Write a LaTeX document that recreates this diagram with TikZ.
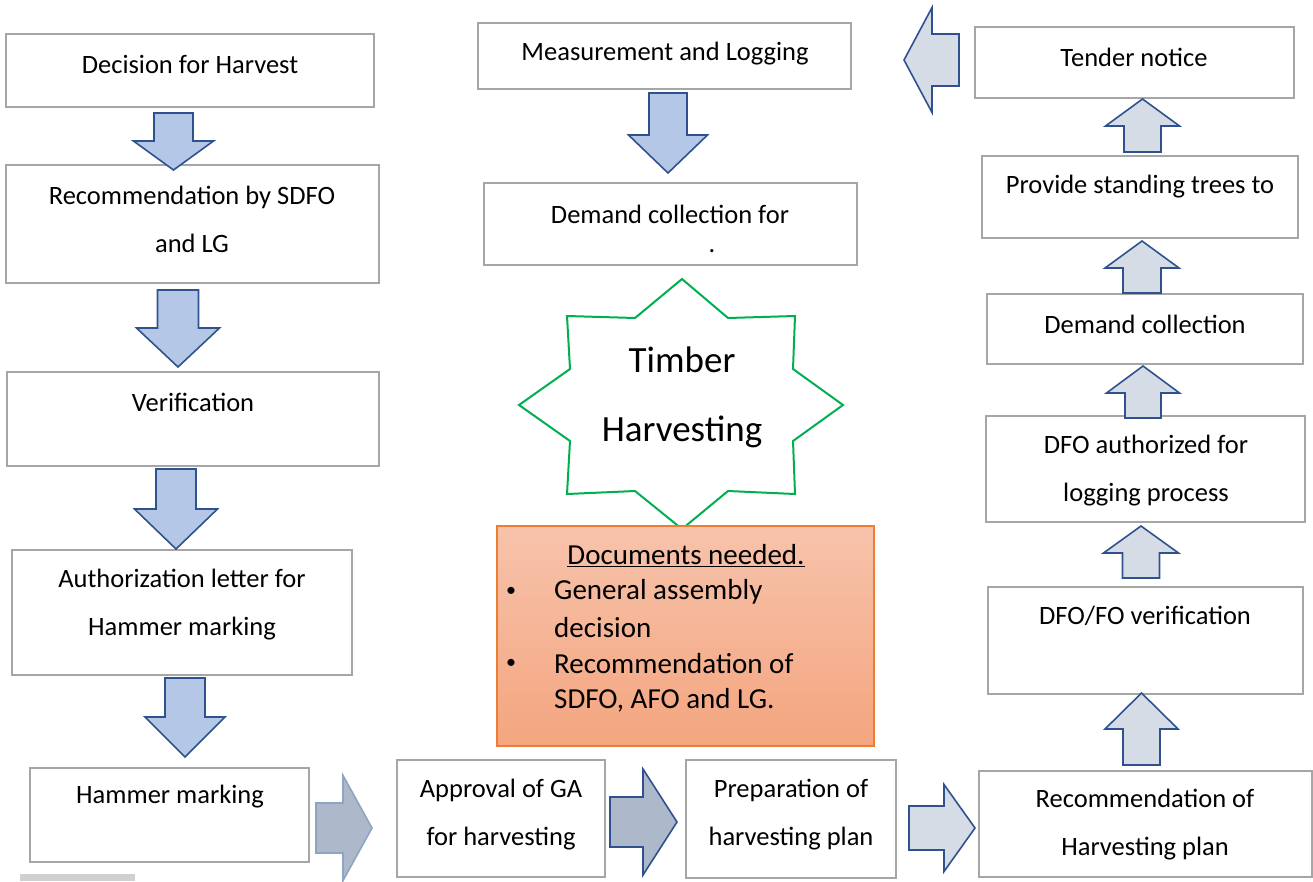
\documentclass[tikz,border=0pt]{standalone}
\usepackage{fontspec}
\setmainfont{Carlito}
\usetikzlibrary{fit}
\definecolor{boxgray}{HTML}{A6A6A6}
\definecolor{arrblue}{HTML}{2F528F}
\definecolor{downfill}{HTML}{B4C7E7}
\definecolor{upfill}{HTML}{D6DCE5}
\definecolor{midfill}{HTML}{ADB9CA}
\definecolor{softedge}{HTML}{8FA3C2}
\definecolor{stargreen}{HTML}{00B050}
\definecolor{docedge}{HTML}{ED7D31}
\definecolor{doctop}{HTML}{F7C3AB}
\definecolor{docbot}{HTML}{F4A57F}
\definecolor{barl}{HTML}{D0D0D0}

% vertical block arrow: style, centre x, shaft end y, head base y, tip y, shaft half width, head half width
\newcommand{\blockV}[7]{%
  \draw[#1] (#2-#6,#3) -- (#2+#6,#3) -- (#2+#6,#4) -- (#2+#7,#4) -- (#2,#5)
    -- (#2-#7,#4) -- (#2-#6,#4) -- cycle;}
% horizontal block arrow: style, centre y, shaft end x, head base x, tip x, shaft half width, head half width
\newcommand{\blockH}[7]{%
  \draw[#1] (#3,#2-#6) -- (#4,#2-#6) -- (#4,#2-#7) -- (#5,#2) -- (#4,#2+#7)
    -- (#4,#2+#6) -- (#3,#2+#6) -- cycle;}

\begin{document}
\begin{tikzpicture}[x=1pt,y=-1pt,
  box/.style={draw=boxgray, line width=1.6pt, fill=white, inner sep=0pt},
  txt/.style={font=\fontsize{26.5}{48}\selectfont, align=center, inner sep=0pt},
  doc/.style={font=\fontsize{29}{36}\selectfont, inner sep=0pt},
  darr/.style={draw=arrblue, line width=1.6pt, fill=downfill, line join=miter},
  uarr/.style={draw=arrblue, line width=1.6pt, fill=upfill, line join=miter},
  marr/.style={draw=arrblue, line width=1.6pt, fill=midfill, line join=miter},
  sarr/.style={draw=softedge, line width=1.6pt, fill=midfill, line join=miter},
]
\useasboundingbox (0,0) rectangle (1313,881);

% ---- left column ----
\node[box, fit={(6,34) (374,107)}] (dec) {};
\node[txt] (dec-t) at (190,64) {Decision for Harvest};
\node[box, fit={(6,165) (379,283)}] (rec) {};
\node[txt] (rec-t) at (192,219) {Recommendation by SDFO\\and LG};
\node[box, fit={(7,372) (379,466)}] (ver) {};
\node[txt] (ver-t) at (193,402) {Verification};
\node[box, fit={(12,550) (352,675)}] (auth) {};
\node[txt] (auth-t) at (182,604.5) {Authorization letter for\\Hammer marking};
\node[box, fit={(30,768) (309,862)}] (ham) {};
\node[txt] (ham-t) at (170,797) {Hammer marking};
\fill[barl] (20,874) rectangle (135,881);

\blockV{darr}{173.5}{113}{141}{170}{19.5}{40}
\blockV{darr}{178}{290}{328}{367}{20.5}{41.5}
\blockV{darr}{176}{469}{509}{549}{20}{41.5}
\blockV{darr}{185}{678}{717}{757}{20}{40}

% ---- bottom row ----
\node[box, fit={(397,760) (605,877)}] (appr) {};
\node[txt] (appr-t) at (501,815) {Approval of GA\\for harvesting};
\node[box, fit={(686,760) (896,878)}] (prep) {};
\node[txt] (prep-t) at (791,815) {Preparation of\\harvesting plan};
\node[box, fit={(979,771) (1312,877)}] (rhp) {};
\node[txt] (rhp-t) at (1145,824.5) {Recommendation of\\Harvesting plan};

\blockH{sarr}{828}{316}{343}{372}{25}{52.5}
\blockH{marr}{822}{610}{643}{677}{25}{53}
\blockH{uarr}{828}{909}{944}{975}{22}{43.5}

% ---- right column ----
\node[box, fit={(988,587) (1303,694)}] (dfv) {};
\node[txt] (dfv-t) at (1145,616) {DFO/FO verification};
\node[box, fit={(986,416) (1305,522)}] (dfa) {};
\node[txt] (dfa-t) at (1146,470.5) {DFO authorized for\\logging process};
\node[box, fit={(987,294) (1303,364)}] (dem) {};
\node[txt] (dem-t) at (1145,324) {Demand collection};
\node[box, fit={(982,156) (1298,238)}] (prov) {};
\node[txt] (prov-t) at (1140,187) {Provide standing trees to};
\node[box, fit={(975,27) (1294,98)}] (ten) {};
\node[txt] (ten-t) at (1134,57) {Tender notice};

\blockV{uarr}{1141.5}{765}{729}{693}{18.5}{36.5}
\blockV{uarr}{1141}{578}{553}{526}{18.5}{37.5}
\blockV{uarr}{1143}{418}{393}{366}{18}{36.5}
\blockV{uarr}{1142}{293}{268}{241}{19}{37}
\blockV{uarr}{1142.5}{152}{126}{99}{18.5}{37}
\blockH{uarr}{60}{959}{932}{904}{26}{52.5}

% ---- middle column ----
\node[box, fit={(478,23) (851,89)}] (meas) {};
\node[txt] (meas-t) at (665,54) {Measurement and Logging};
\node[box, fit={(484,183) (857,265)}] (dcf) {};
\node[txt] (dcf-t) at (670,214) {Demand collection for};
\node[txt] (dcf-d) at (712,251) {.};
\blockV{darr}{668}{93}{135}{173}{19}{39.5}

% eight-pointed star
\draw[stargreen, line width=2pt, fill=white, line join=miter]
  (682,279) -- (728,318) -- (795,316) -- (793,369) -- (843,405) -- (793,441)
  -- (795,494) -- (728,491) -- (682,529) -- (635,491) -- (567,494) -- (570,441)
  -- (519,405) -- (570,369) -- (567,316) -- (635,318) -- cycle;
\node[font=\fontsize{37}{69}\selectfont, align=center, inner sep=0pt] (th) at (682,397)
  {Timber\\Harvesting};

% documents panel
\node[draw=docedge, line width=1.2pt, top color=doctop, bottom color=docbot,
  inner sep=0pt, fit={(497,526) (874,746)}] (docs) {};
\node[doc] (docs-h) at (686,556) {\underline{Documents needed.}};
\node[font=\fontsize{20}{36}\selectfont, inner sep=0pt] (b1) at (511,592) {•};
\node[font=\fontsize{20}{36}\selectfont, inner sep=0pt] (b2) at (511,664) {•};
\node[doc, anchor=west] (l1) at (554,592) {General assembly};
\node[doc, anchor=west] (l2) at (554,628) {decision};
\node[doc, anchor=west] (l3) at (554,664) {Recommendation of};
\node[doc, anchor=west] (l4) at (554,700) {SDFO, AFO and LG.};
\end{tikzpicture}
\end{document}
